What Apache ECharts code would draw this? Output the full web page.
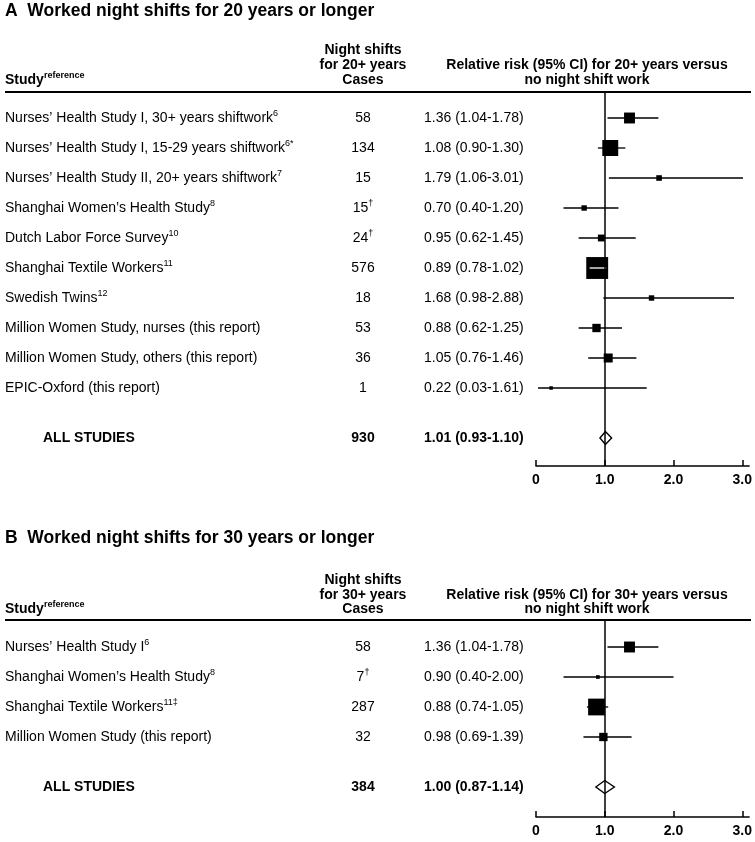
<!DOCTYPE html>
<html><head><meta charset="utf-8">
<script src="https://cdn.jsdelivr.net/npm/echarts@6/dist/echarts.min.js"></script>
<style>html,body{margin:0;padding:0;background:#fff}#c{width:755px;height:842px}</style>
</head><body><div id="c"></div>
<script>
// ---------- Panel A data ----------
const titleA = "A  Worked night shifts for 20 years or longer";
const yearsA = "20+";
const studiesA = [
  "Nurses’ Health Study I, 30+ years shiftwork",
  "Nurses’ Health Study I, 15-29 years shiftwork",
  "Nurses’ Health Study II, 20+ years shiftwork",
  "Shanghai Women’s Health Study",
  "Dutch Labor Force Survey",
  "Shanghai Textile Workers",
  "Swedish Twins",
  "Million Women Study, nurses (this report)",
  "Million Women Study, others (this report)",
  "EPIC-Oxford (this report)"
];
const refsA = ["6", "6*", "7", "8", "10", "11", "12", "", "", ""];
const casesA = ["58", "134", "15", "15", "24", "576", "18", "53", "36", "1"];
const casesMarkA = ["", "", "", "†", "†", "", "", "", "", ""];
const rrA = [1.36, 1.08, 1.79, 0.70, 0.95, 0.89, 1.68, 0.88, 1.05, 0.22];
const loA = [1.04, 0.90, 1.06, 0.40, 0.62, 0.78, 0.98, 0.62, 0.76, 0.03];
const hiA = [1.78, 1.30, 3.01, 1.20, 1.45, 1.02, 2.88, 1.25, 1.46, 1.61];
const weightA = [53, 113, 14, 13, 21, 213, 13, 31, 36, 1];
const totalCasesA = "930";
const totalRrA = [1.01, 0.93, 1.10];

// ---------- Panel B data ----------
const titleB = "B  Worked night shifts for 30 years or longer";
const yearsB = "30+";
const studiesB = [
  "Nurses’ Health Study I",
  "Shanghai Women’s Health Study",
  "Shanghai Textile Workers",
  "Million Women Study (this report)"
];
const refsB = ["6", "8", "11‡", ""];
const casesB = ["58", "7", "287", "32"];
const casesMarkB = ["", "†", "", ""];
const rrB = [1.36, 0.90, 0.88, 0.98];
const loB = [1.04, 0.40, 0.74, 0.69];
const hiB = [1.78, 2.00, 1.05, 1.39];
const weightB = [53, 6, 125, 31];
const totalCasesB = "384";
const totalRrB = [1.00, 0.87, 1.14];

// ---------- axis ticks ----------
const tickValues = [0, 1, 2, 3];
const tickLabels = ["0", "1.0", "2.0", "3.0"];

// ---------- layout ----------
const FONT = "'Liberation Sans', Arial, Helvetica, sans-serif";
const FS = 14;
const ROW = 30, SUMGAP = 1.667;
const NAME_X = 5, CASES_X = 363, RR_X = 424, ALL_X = 43, RR_HDR_X = 587;
const RULE_X1 = 5, RULE_X2 = 751;
const GRID_LEFT = 536, GRID_RIGHT = 5, X_MAX = 3.1;
const L = {
  A: {title: 11, hdr: [50, 65, 80], rule: 92, firstRow: 118, bottom: 466},
  B: {title: 538, hdr: [580, 595, 609], rule: 620, firstRow: 647, bottom: 817}
};

const rich = {
  n: {fontFamily: FONT, fontSize: FS, lineHeight: 18, color: '#000'},
  s: {fontFamily: FONT, fontSize: 9, lineHeight: 9, verticalAlign: 'top', color: '#000'},
  b: {fontFamily: FONT, fontSize: FS, fontWeight: 'bold', lineHeight: 18, color: '#000'},
  bs: {fontFamily: FONT, fontSize: 9, fontWeight: 'bold', lineHeight: 9, verticalAlign: 'top', color: '#000'}
};
function rt(main, sup, bold) {
  return '{' + (bold ? 'b' : 'n') + '|' + main + '}' + (sup ? '{' + (bold ? 'bs' : 's') + '|' + sup + '}' : '');
}
function fmt(r, l, h) { return r.toFixed(2) + ' (' + l.toFixed(2) + '-' + h.toFixed(2) + ')'; }
function txt(x, y, text, align, bold) {
  return {type: 'text', x: x, y: y, silent: true, style: {
    text: text, rich: rich, fill: '#000',
    font: (bold ? 'bold ' : '') + FS + 'px ' + FONT,
    align: align, textAlign: align, verticalAlign: 'middle', textVerticalAlign: 'middle'
  }};
}

function headerGraphics(p, title, years) {
  const g = [];
  g.push({type: 'text', x: NAME_X, y: p.title, silent: true, style: {
    text: title, fill: '#000', font: 'bold 17.5px ' + FONT,
    align: 'left', textAlign: 'left', verticalAlign: 'middle', textVerticalAlign: 'middle'}});
  g.push(txt(CASES_X, p.hdr[0], 'Night shifts', 'center', true));
  g.push(txt(CASES_X, p.hdr[1], 'for ' + years + ' years', 'center', true));
  g.push(txt(CASES_X, p.hdr[2], 'Cases', 'center', true));
  g.push(txt(RR_HDR_X, p.hdr[1], 'Relative risk (95% CI) for ' + years + ' years versus', 'center', true));
  g.push(txt(RR_HDR_X, p.hdr[2], 'no night shift work', 'center', true));
  g.push(txt(NAME_X, p.hdr[2], rt('Study', 'reference', true), 'left', true));
  g.push({type: 'line', silent: true, shape: {x1: RULE_X1, y1: p.rule, x2: RULE_X2, y2: p.rule},
    style: {stroke: '#000', lineWidth: 2}});
  return g;
}

function yRange(p) {
  const min = 1 - (p.firstRow - p.rule) / ROW;
  return {min: min, max: min + (p.bottom - p.rule) / ROW};
}

function studySeries(gi, names, refs, cases, marks, rr, lo, hi, w) {
  const data = rr.map((v, i) => [i + 1, lo[i], v, hi[i], w[i], i]);
  return {
    type: 'custom', xAxisIndex: gi, yAxisIndex: gi, clip: false, silent: true, z: 2,
    data: data,
    encode: {x: [1, 2, 3], y: 0},
    renderItem: function (params, api) {
      const i = api.value(5), row = api.value(0);
      const pLo = api.coord([api.value(1), row]);
      const pC = api.coord([api.value(2), row]);
      const pHi = api.coord([api.value(3), row]);
      const y = pC[1];
      const s = Math.max(3.5, 1.5 * Math.sqrt(api.value(4)));
      const children = [
        txt(NAME_X, y, rt(names[i], refs[i], false), 'left', false),
        txt(CASES_X, y, rt(cases[i], marks[i], false), 'center', false),
        txt(RR_X, y, '{n|' + fmt(rr[i], lo[i], hi[i]) + '}', 'left', false),
        {type: 'line', shape: {x1: pLo[0], y1: y, x2: pHi[0], y2: y}, style: {stroke: '#000', lineWidth: 1.3}},
        {type: 'rect', shape: {x: pC[0] - s / 2, y: y - s / 2, width: s, height: s}, style: {fill: '#000'}}
      ];
      if (pLo[0] > pC[0] - s / 2 && pHi[0] < pC[0] + s / 2) {
        children.push({type: 'line', shape: {x1: pLo[0], y1: y, x2: pHi[0], y2: y}, style: {stroke: '#fff', lineWidth: 1.3}});
      }
      return {type: 'group', children: children};
    },
    markLine: {
      silent: true, symbol: 'none', z: 5,
      label: {show: false},
      lineStyle: {color: '#000', width: 1.5, type: 'solid'},
      emphasis: {disabled: true},
      data: [{xAxis: 1}]
    }
  };
}

function totalSeries(gi, n, cases, tot) {
  return {
    type: 'custom', xAxisIndex: gi, yAxisIndex: gi, clip: false, silent: true, z: 6,
    data: [[n + SUMGAP, tot[1], tot[0], tot[2]]],
    encode: {x: [1, 2, 3], y: 0},
    renderItem: function (params, api) {
      const row = api.value(0);
      const pLo = api.coord([api.value(1), row]);
      const pC = api.coord([api.value(2), row]);
      const pHi = api.coord([api.value(3), row]);
      const y = pC[1];
      return {type: 'group', children: [
        txt(ALL_X, y, '{b|ALL STUDIES}', 'left', true),
        txt(CASES_X, y, '{b|' + cases + '}', 'center', true),
        txt(RR_X, y, '{b|' + fmt(tot[0], tot[1], tot[2]) + '}', 'left', true),
        {type: 'polygon', shape: {points: [[pLo[0], y], [pC[0], y - 6.5], [pHi[0], y], [pC[0], y + 6.5]]},
          style: {fill: 'none', stroke: '#000', lineWidth: 1.4}}
      ]};
    }
  };
}

function xAxisDef(gi) {
  return {
    gridIndex: gi, type: 'value', min: 0, max: X_MAX,
    axisLine: {show: true, lineStyle: {color: '#000', width: 1.5}},
    axisTick: {show: true, inside: true, length: 6, customValues: tickValues, lineStyle: {color: '#000', width: 1.5}},
    axisLabel: {show: true, customValues: tickValues, margin: 7,
      formatter: function (v) { const k = tickValues.indexOf(v); return k >= 0 ? tickLabels[k] : ''; },
      color: '#000', fontFamily: FONT, fontSize: FS, fontWeight: 'bold'},
    splitLine: {show: false}
  };
}
function yAxisDef(gi, p) {
  const r = yRange(p);
  return {gridIndex: gi, type: 'value', inverse: true, min: r.min, max: r.max, show: false,
    splitLine: {show: false}};
}

const option = {
  backgroundColor: '#fff',
  animation: false,
  grid: [
    {left: GRID_LEFT, right: GRID_RIGHT, top: L.A.rule, height: L.A.bottom - L.A.rule},
    {left: GRID_LEFT, right: GRID_RIGHT, top: L.B.rule, height: L.B.bottom - L.B.rule}
  ],
  xAxis: [xAxisDef(0), xAxisDef(1)],
  yAxis: [yAxisDef(0, L.A), yAxisDef(1, L.B)],
  graphic: headerGraphics(L.A, titleA, yearsA).concat(headerGraphics(L.B, titleB, yearsB)),
  series: [
    studySeries(0, studiesA, refsA, casesA, casesMarkA, rrA, loA, hiA, weightA),
    totalSeries(0, studiesA.length, totalCasesA, totalRrA),
    studySeries(1, studiesB, refsB, casesB, casesMarkB, rrB, loB, hiB, weightB),
    totalSeries(1, studiesB.length, totalCasesB, totalRrB)
  ]
};
const chart = echarts.init(document.getElementById('c'), null, {renderer: 'canvas', width: 755, height: 842});
chart.setOption(option);
</script>
</body></html>
